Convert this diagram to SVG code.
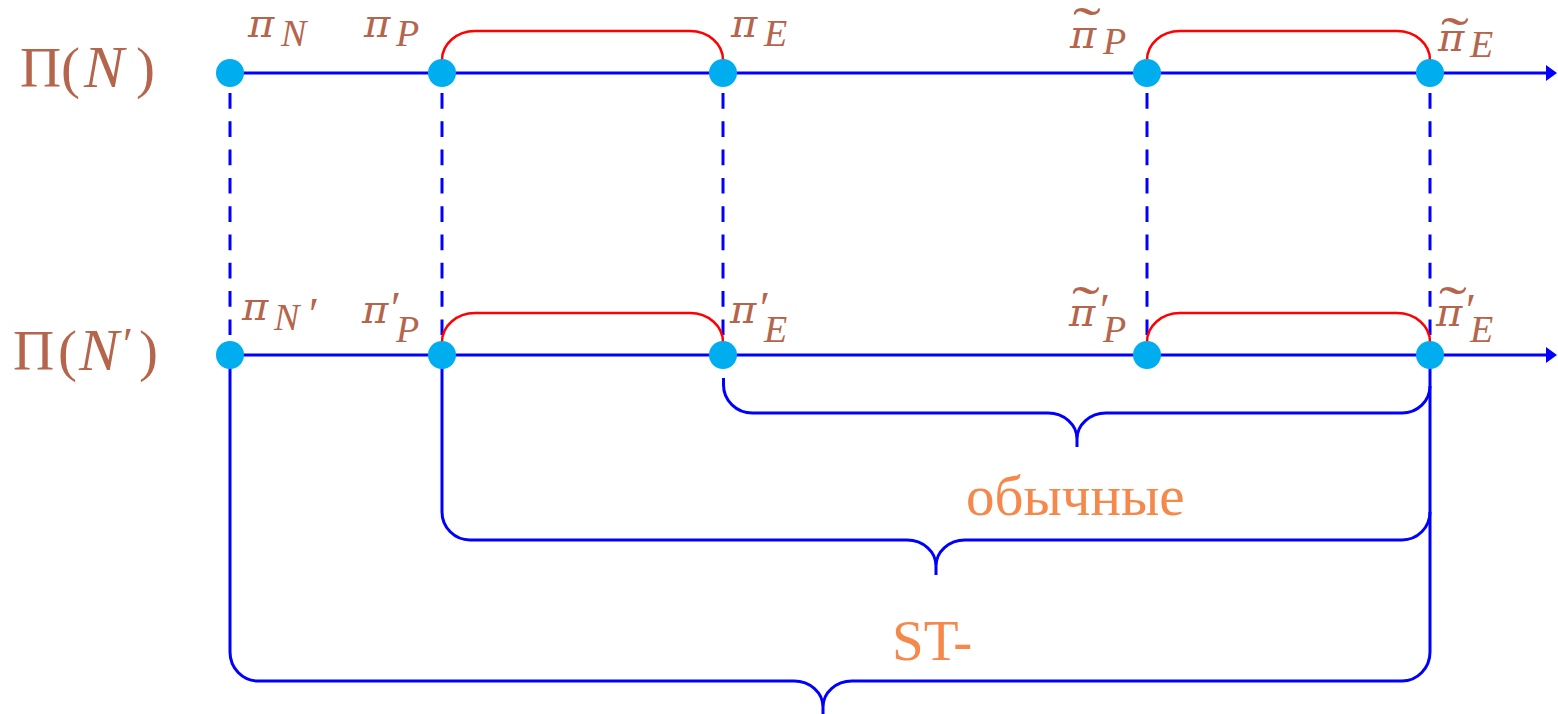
<svg xmlns="http://www.w3.org/2000/svg" width="1558" height="714" viewBox="0 0 1558 714">
<style>
.ax{stroke:#0000FF;stroke-width:3;fill:none}
.dash{stroke:#0000FF;stroke-width:3;stroke-dasharray:15.7 12.6;fill:none}
.red{stroke:#FF0000;stroke-width:2.5;fill:none}
.br{stroke:#0000FF;stroke-width:3;fill:none}
.nd{fill:#00AEEF}
.lb{font-family:"Liberation Serif",serif;fill:#B5654B}
.pi{font-family:"DejaVu Serif",serif;font-size:40px;font-style:italic}
.sub{font-family:"Liberation Serif",serif;font-size:38px;font-style:italic}
.big{font-size:57px}
.pr{font-family:"Liberation Serif",serif;font-size:46px;font-style:normal}
.tl{font-family:"Liberation Serif",serif;font-size:54px}
.ru{font-family:"Liberation Serif","DejaVu Serif",serif;font-size:57px;fill:#F5884B}
</style>
<defs>
<marker id="arr" markerUnits="userSpaceOnUse" markerWidth="11" markerHeight="16" refX="2" refY="8" orient="auto"><path d="M0,0 L11,8 L0,16 z" fill="#0000FF"/></marker>
</defs>
<g id="connectors">
<path class="ax" d="M230 73 H1548" marker-end="url(#arr)"/>
<path class="ax" d="M230 355 H1548" marker-end="url(#arr)"/>
<path class="dash" d="M230 93 V336"/>
<path class="dash" d="M442 93 V336"/>
<path class="dash" d="M723 93 V336"/>
<path class="dash" d="M1147 93 V336"/>
<path class="dash" d="M1430 93 V336"/>
<path class="red" d="M442 60 A33 29 0 0 1 475 31 H690 A33 29 0 0 1 723 60"/>
<path class="red" d="M1147 60 A33 29 0 0 1 1180 31 H1397 A33 29 0 0 1 1430 60"/>
<path class="red" d="M442 342 A33 29 0 0 1 475 313 H690 A33 29 0 0 1 723 342"/>
<path class="red" d="M1147 342 A33 29 0 0 1 1180 313 H1397 A33 29 0 0 1 1430 342"/>
<path class="br" d="M723.5 378 V385 A29 28 0 0 0 752.5 413 H1048 A29 26 0 0 1 1077 439 V447 M1077 439 A29 26 0 0 1 1106 413 H1402 A28 27 0 0 0 1430 386"/>
<path class="br" d="M442 368 V512 A28 28 0 0 0 470 540 H907 A29 26 0 0 1 936 566 V575 M936 566 A29 26 0 0 1 965 540 H1402 A28 28 0 0 0 1430 512"/>
<path class="br" d="M230 368 V652 A28 29 0 0 0 258 681 H794 A29 26 0 0 1 823 707 V714 M823 707 A29 26 0 0 1 852 681 H1402 A28 29 0 0 0 1430 652 V368"/>
</g>
<g id="n-top-N"><circle class="nd" cx="230" cy="73" r="14"/></g>
<g id="n-top-P"><circle class="nd" cx="442" cy="73" r="14"/></g>
<g id="n-top-E"><circle class="nd" cx="723" cy="73" r="14"/></g>
<g id="n-top-tP"><circle class="nd" cx="1147" cy="73" r="14"/></g>
<g id="n-top-tE"><circle class="nd" cx="1430" cy="73" r="14"/></g>
<g id="n-bot-N"><circle class="nd" cx="230" cy="355" r="14"/></g>
<g id="n-bot-P"><circle class="nd" cx="442" cy="355" r="14"/></g>
<g id="n-bot-E"><circle class="nd" cx="723" cy="355" r="14"/></g>
<g id="n-bot-tP"><circle class="nd" cx="1147" cy="355" r="14"/></g>
<g id="n-bot-tE"><circle class="nd" cx="1430" cy="355" r="14"/></g>
<g id="labels">
<text class="lb big" y="87"><tspan x="20">Π</tspan><tspan x="61">(</tspan><tspan x="84" font-style="italic" font-size="60">N</tspan><tspan x="136">)</tspan></text>
<text class="lb big" y="370"><tspan x="13">Π</tspan><tspan x="58">(</tspan><tspan x="79" font-style="italic" font-size="60">N</tspan><tspan x="123" class="pr" dy="-10">′</tspan><tspan x="139" dy="10">)</tspan></text>
<text class="lb" y="37"><tspan class="pi" x="248">π</tspan><tspan class="sub" x="281" y="46">N</tspan></text>
<text class="lb" y="37"><tspan class="pi" x="364">π</tspan><tspan class="sub" x="396" y="46">P</tspan></text>
<text class="lb" y="37"><tspan class="pi" x="731">π</tspan><tspan class="sub" x="764" y="46">E</tspan></text>
<text class="lb" y="48"><tspan class="pi" x="1070">π</tspan><tspan class="sub" x="1103" y="54">P</tspan></text>
<text class="lb tl" transform="translate(1073 45) scale(1.55 1)">˜</text>
<text class="lb" y="51"><tspan class="pi" x="1438">π</tspan><tspan class="sub" x="1470" y="57">E</tspan></text>
<text class="lb tl" transform="translate(1441 55) scale(1.55 1)">˜</text>
<text class="lb" y="320"><tspan class="pi" x="242">π</tspan><tspan class="sub" x="274" y="330">N</tspan><tspan class="pr" x="309" y="330" font-size="34">′</tspan></text>
<text class="lb" y="323"><tspan class="pi" x="362">π</tspan><tspan class="pr" x="391" y="324">′</tspan><tspan class="sub" x="396" y="342">P</tspan></text>
<text class="lb" y="323"><tspan class="pi" x="730">π</tspan><tspan class="pr" x="760" y="324">′</tspan><tspan class="sub" x="764" y="342">E</tspan></text>
<text class="lb" y="326"><tspan class="pi" x="1069">π</tspan><tspan class="pr" x="1100" y="326">′</tspan><tspan class="sub" x="1103" y="342">P</tspan></text>
<text class="lb tl" transform="translate(1072 324) scale(1.55 1)">˜</text>
<text class="lb" y="326"><tspan class="pi" x="1436">π</tspan><tspan class="pr" x="1466" y="326">′</tspan><tspan class="sub" x="1470" y="342">E</tspan></text>
<text class="lb tl" transform="translate(1439 324) scale(1.55 1)">˜</text>
<text class="ru" x="966" y="515">обычные</text>
<text class="ru" x="892" y="660">ST-</text>
</g>
</svg>
